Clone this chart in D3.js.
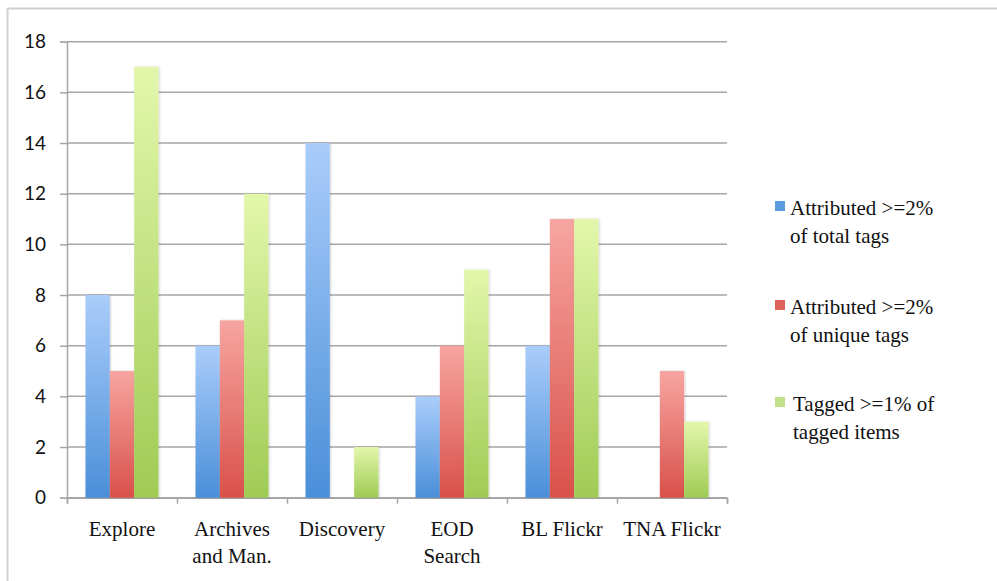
<!DOCTYPE html>
<html>
<head>
<meta charset="utf-8">
<script src="https://cdn.jsdelivr.net/npm/d3@7"></script>
<style>
  html, body { margin: 0; padding: 0; background: #fff; }
  svg { display: block; }
  .serif { font-family: "Liberation Serif", "Tinos", "Times New Roman", "Nimbus Roman", "Nimbus Roman No9 L", "FreeSerif", "Noto Serif", "DejaVu Serif", "Noto Serif CJK SC", "Noto Serif CJK JP", Georgia, serif; }
  .sans { font-family: Lato, "Open Sans", sans-serif; }
</style>
</head>
<body>
<script>
const categories = [["Explore"], ["Archives", "and Man."], ["Discovery"], ["EOD", "Search"], ["BL Flickr"], ["TNA Flickr"]];
const seriesNames = [["Attributed >=2%", "of total tags"], ["Attributed >=2%", "of unique tags"], ["Tagged >=1% of", "tagged items"]];
const totalTags = [8, 6, 14, 4, 6, 0];
const uniqueTags = [5, 7, 0, 6, 11, 5];
const taggedItems = [17, 12, 2, 9, 11, 3];
const yTicks = [0, 2, 4, 6, 8, 10, 12, 14, 16, 18];

(function () {
const seriesValues = [totalTags, uniqueTags, taggedItems];
const colors = [
  { top: "#aacdfa", bottom: "#4a8fd9" },
  { top: "#f7a5a1", bottom: "#d9514a" },
  { top: "#e3f7ab", bottom: "#9fcb55" }
];
const legendSwatch = ["#5b9be0", "#e0625c", "#c2e08a"];

const W = 997, H = 581;
const svg = d3.select("body").append("svg").attr("width", W).attr("height", H);

const defs = svg.append("defs");
colors.forEach((c, i) => {
  const g = defs.append("linearGradient").attr("id", "g" + i)
    .attr("x1", 0).attr("y1", 0).attr("x2", 0).attr("y2", 1);
  g.append("stop").attr("offset", "0%").attr("stop-color", c.top);
  g.append("stop").attr("offset", "100%").attr("stop-color", c.bottom);
});
const f = defs.append("filter").attr("id", "shadow").attr("x", "-20%").attr("y", "-5%").attr("width", "140%").attr("height", "110%");
f.append("feDropShadow").attr("dx", 1).attr("dy", 0).attr("stdDeviation", 1.2).attr("flood-color", "#000").attr("flood-opacity", 0.18);

// frame
svg.append("line").attr("x1", 7.5).attr("x2", W).attr("y1", 8.5).attr("y2", 8.5).attr("stroke", "#cfcfcf").attr("stroke-width", 2);
svg.append("line").attr("x1", 7.5).attr("x2", 7.5).attr("y1", 8.5).attr("y2", H).attr("stroke", "#cfcfcf").attr("stroke-width", 2);

const pLeft = 67, pRight = 727, pTop = 41.7, pBottom = 497.7;
const y = d3.scaleLinear().domain([0, 18]).range([pBottom, pTop]);
const x0 = d3.scaleBand().domain(d3.range(categories.length)).range([pLeft, pRight]).padding(0);
const x1 = d3.scaleBand().domain(d3.range(seriesValues.length)).range([18.5, x0.bandwidth() - 18.5]).padding(0);

// gridlines
svg.append("g").selectAll("line").data(yTicks).join("line")
  .attr("x1", pLeft).attr("x2", pRight)
  .attr("y1", d => y(d)).attr("y2", d => y(d))
  .attr("stroke", "#a6a6a6").attr("stroke-width", 1.5);

// y axis
const yAxis = svg.append("g").attr("transform", `translate(${pLeft},0)`)
  .call(d3.axisLeft(y).tickValues(yTicks).tickSize(7).tickPadding(14).tickFormat(d3.format("d")));
yAxis.attr("font-family", null).attr("font-size", null);
yAxis.select(".domain").attr("stroke", "#a6a6a6").attr("stroke-width", 1.5);
yAxis.selectAll(".tick line").attr("stroke", "#a6a6a6").attr("stroke-width", 1.5);
yAxis.selectAll(".tick text").attr("class", "sans").style("font-size", "19px").attr("fill", "#111");

// x axis
const xAxis = svg.append("g").attr("transform", `translate(0,${pBottom})`)
  .call(d3.axisBottom(d3.scaleLinear().domain([0, categories.length]).range([pLeft, pRight]))
    .tickValues(d3.range(categories.length + 1)).tickSize(6).tickFormat(""));
xAxis.select(".domain").attr("stroke", "#a6a6a6").attr("stroke-width", 1.5);
xAxis.selectAll(".tick line").attr("stroke", "#a6a6a6").attr("stroke-width", 1.5);

// bars
const groups = svg.append("g").selectAll("g").data(categories).join("g")
  .attr("transform", (d, i) => `translate(${x0(i)},0)`);
groups.selectAll("rect").data((d, i) => seriesValues.map((s, j) => ({ j, v: s[i] })).filter(e => e.v > 0))
  .join("rect")
  .attr("x", d => x1(d.j))
  .attr("width", x1.bandwidth())
  .attr("y", d => y(d.v))
  .attr("height", d => y(0) - y(d.v))
  .attr("fill", d => `url(#g${d.j})`)
  .attr("filter", "url(#shadow)");

// x labels
const xl = svg.append("g").selectAll("text").data(categories).join("text")
  .attr("class", "serif")
  .attr("x", (d, i) => x0(i) + x0.bandwidth() / 2)
  .attr("y", 536)
  .attr("text-anchor", "middle")
  .style("font-size", "21px")
  .attr("fill", "#111");
xl.selectAll("tspan").data(d => d).join("tspan")
  .attr("x", function () { return d3.select(this.parentNode).attr("x"); })
  .attr("dy", (d, i) => i === 0 ? 0 : 27)
  .text(d => d);

// legend
const legendY = [201, 300, 397];
const lg = svg.append("g").selectAll("g").data(seriesNames).join("g")
  .attr("transform", (d, i) => `translate(775,${legendY[i]})`);
lg.append("rect").attr("width", 10).attr("height", 10).attr("fill", (d, i) => legendSwatch[i]);
const lt = lg.append("text")
  .attr("class", "serif")
  .attr("x", (d, i) => i === 2 ? 18 : 15)
  .attr("y", 14)
  .style("font-size", "21px")
  .attr("fill", "#111");
lt.selectAll("tspan").data(d => d).join("tspan")
  .attr("x", function () { return d3.select(this.parentNode).attr("x"); })
  .attr("dy", (d, i) => i === 0 ? 0 : 28)
  .text(d => d);
})();
</script>
</body>
</html>
